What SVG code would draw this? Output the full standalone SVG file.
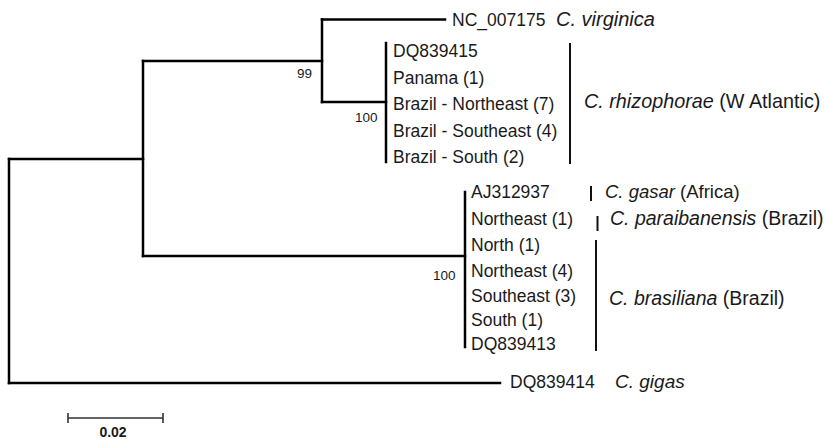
<svg xmlns="http://www.w3.org/2000/svg" width="825" height="439" viewBox="0 0 825 439">
<style>
  .br { stroke: #000; stroke-width: 2.5; fill: none; stroke-linecap: square; }
  .bk { stroke: #111; stroke-width: 2; fill: none; }
  .sb { stroke: #333; stroke-width: 1.6; fill: none; }
  text { font-family: "Liberation Sans", Arial, sans-serif; fill: #1a1a1a; }
  .lab { font-size: 17.5px; }
  .sp { font-size: 19.5px; }
  .it { font-style: italic; }
  .bs { font-size: 13.5px; }
  .sc { font-size: 14px; font-weight: bold; }
</style>
<rect width="825" height="439" fill="#fff"/>
<g id="connectors">
  <path class="br" d="M9,159 V383"/>
  <path class="br" d="M9,159 H143"/>
  <path class="br" d="M143,61 V256"/>
  <path class="br" d="M143,61 H322"/>
  <path class="br" d="M322,19.5 V102"/>
  <path class="br" d="M322,19.5 H445"/>
  <path class="br" d="M322,102 H386"/>
  <path class="br" d="M386,43 V162"/>
  <path class="br" d="M143,256 H465"/>
  <path class="br" d="M465,192 V347"/>
  <path class="br" d="M9,383 H500"/>
</g>
<g id="support">
  <text class="bs" x="297" y="78">99</text>
  <text class="bs" x="355" y="122">100</text>
  <text class="bs" x="433" y="280">100</text>
</g>
<g id="leaf-virginica">
  <text class="lab" x="452" y="26">NC_007175</text>
  <text class="sp it" x="556" y="26" style="font-size:20px">C. virginica</text>
</g>
<g id="clade-rhizophorae">
  <text class="lab" x="393" y="57">DQ839415</text>
  <text class="lab" x="393" y="83.5">Panama (1)</text>
  <text class="lab" x="393" y="110">Brazil - Northeast (7)</text>
  <text class="lab" x="393" y="136.5">Brazil - Southeast (4)</text>
  <text class="lab" x="393" y="163">Brazil - South (2)</text>
  <path class="bk" d="M570,43 V164"/>
  <text class="sp" x="584" y="108" style="font-size:19.8px"><tspan class="it">C. rhizophorae</tspan> (W Atlantic)</text>
</g>
<g id="clade-lower">
  <text class="lab" x="471" y="197.5">AJ312937</text>
  <text class="lab" x="471" y="224.5">Northeast (1)</text>
  <text class="lab" x="471" y="250.5">North (1)</text>
  <text class="lab" x="471" y="276.5">Northeast (4)</text>
  <text class="lab" x="471" y="301.5">Southeast (3)</text>
  <text class="lab" x="471" y="326">South (1)</text>
  <text class="lab" x="471" y="350">DQ839413</text>
</g>
<g id="species-gasar">
  <path class="bk" d="M591,186 V201"/>
  <text class="sp" x="605" y="197.5" style="font-size:18.5px"><tspan class="it">C. gasar</tspan> (Africa)</text>
</g>
<g id="species-paraibanensis">
  <path class="bk" d="M597.5,216 V231"/>
  <text class="sp" x="610" y="225"><tspan class="it">C. paraibanensis</tspan> (Brazil)</text>
</g>
<g id="species-brasiliana">
  <path class="bk" d="M596,240 V351"/>
  <text class="sp" x="609" y="305"><tspan class="it">C. brasiliana</tspan> (Brazil)</text>
</g>
<g id="leaf-gigas">
  <text class="lab" x="510" y="388">DQ839414</text>
  <text class="sp it" x="615" y="388" style="font-size:19px">C. gigas</text>
</g>
<g id="scale-bar">
  <path class="sb" d="M68,418 H163 M68,413 V423 M163,413 V423"/>
  <text class="sc" x="113" y="437" text-anchor="middle">0.02</text>
</g>
</svg>
